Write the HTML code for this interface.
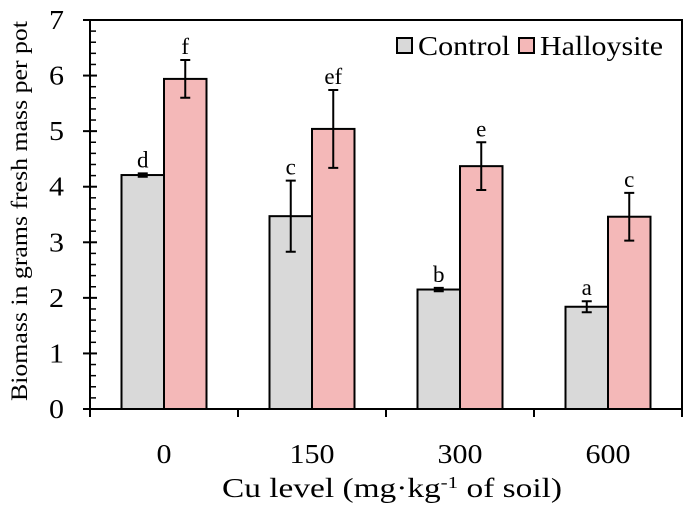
<!DOCTYPE html>
<html><head><meta charset="utf-8"><style>
body{margin:0;background:#fff}
text{font-family:"Liberation Serif",serif;fill:#000}
</style></head><body>
<svg id="c" width="694" height="507"></svg>
<script>
const categories=["0","150","300","600"];
const controlVals=[4.21,3.47,2.15,1.84];
const halloVals=[5.94,5.04,4.37,3.46];
const controlErr=[0.03,0.64,0.03,0.1];
const halloErr=[0.34,0.7,0.43,0.43];
const controlLetters=["d","c","b","a"];
const halloLetters=["f","ef","e","c"];
const yTicks=[0,1,2,3,4,5,6,7];
const X0=90,X1=682,Y0=409,Y1=20,YMAX=7;
const svg=document.getElementById('c');
const NS='http://www.w3.org/2000/svg';
function y(v){return Y0-(v/YMAX)*(Y0-Y1);}
const cw=(X1-X0)/categories.length;
function cx(i){return X0+cw*(i+0.5);}
function mk(t,a,p){const e=document.createElementNS(NS,t);for(const k in a)e.setAttribute(k,a[k]);(p||svg).appendChild(e);return e;}
const bw=42.5;
function bar(i,v,er,lt,col,off,nm){
 const x=cx(i)+off;
 const r=mk('rect',{x:x,y:y(v),width:bw,height:Y0-y(v),fill:col,stroke:'#000','stroke-width':2});
 
 
 const m=x+bw/2;
 const g=mk('path',{d:`M${m} ${y(v-er)}V${y(v+er)}M${m-5} ${y(v-er)}H${m+5}M${m-5} ${y(v+er)}H${m+5}`,stroke:'#000','stroke-width':2,fill:'none'});
 
 
 const t=mk('text',{x:m,y:y(v+er)-6,'text-anchor':'middle','font-size':23});
 t.textContent=lt;
 
 
}
categories.forEach((c,i)=>{
 bar(i,controlVals[i],controlErr[i],controlLetters[i],'#d9d9d9',-bw,'control');
 bar(i,halloVals[i],halloErr[i],halloLetters[i],'#f4b8b8',0,'halloysite');
 const t=mk('text',{x:cx(i),y:463,'text-anchor':'middle','font-size':27,textLength:c.length*15,lengthAdjust:'spacingAndGlyphs'});
 t.textContent=c;
 
 
});
const f=mk('rect',{x:X0,y:Y1,width:X1-X0,height:Y0-Y1,fill:'none',stroke:'#000','stroke-width':2});


for(let i=0;i<=categories.length;i++){const xx=X0+cw*i;mk('line',{x1:xx,x2:xx,y1:Y0,y2:Y0+8,stroke:'#000','stroke-width':2});}
yTicks.forEach(v=>{
 mk('line',{x1:X0-7,x2:X0+7,y1:y(v),y2:y(v),stroke:'#000','stroke-width':2});
 if(v<YMAX)for(let k=1;k<5;k++)mk('line',{x1:X0,x2:X0+6,y1:y(v+k*0.2),y2:y(v+k*0.2),stroke:'#000','stroke-width':1.5});
 const t=mk('text',{x:64,y:y(v)+9,'text-anchor':'end','font-size':27,textLength:15,lengthAdjust:'spacingAndGlyphs'});
 t.textContent=v;
 
 
});
const yt=mk('text',{x:0,y:0,'text-anchor':'middle','font-size':23,textLength:380,lengthAdjust:'spacingAndGlyphs',transform:`translate(27,211) rotate(-90)`});
yt.textContent='Biomass in grams fresh mass per pot';


const xt=mk('text',{x:392,y:497,'text-anchor':'middle','font-size':27,textLength:340,lengthAdjust:'spacingAndGlyphs'});
xt.innerHTML='Cu level (mg·kg<tspan baseline-shift="super" font-size="17">-1</tspan> of soil)';


[[397,'#d9d9d9','Control',92],[519,'#f4b8b8','Halloysite',123]].forEach(([lx,col,lab,w])=>{
 const s=mk('rect',{x:lx,y:38,width:15,height:15,fill:col,stroke:'#000','stroke-width':2});
 
 
 const t=mk('text',{x:lx+21,y:55,'font-size':27,textLength:w,lengthAdjust:'spacingAndGlyphs'});
 t.textContent=lab;
 
 
});
</script>
</body></html>
